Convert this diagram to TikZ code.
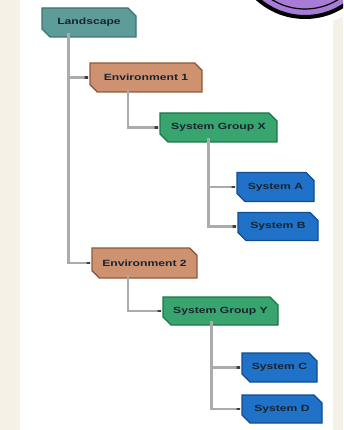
\documentclass[tikz,border=0pt]{standalone}
\usepackage{fontspec}
\newfontfamily\boxfont[FakeStretch=1.35]{Liberation Sans Bold}
\usetikzlibrary{shapes.misc,arrows.meta,calc}
\definecolor{bgbeige}{HTML}{F6F1E7}
\definecolor{tealfill}{HTML}{5E9C9A}
\definecolor{tealdraw}{HTML}{3F7472}
\definecolor{orfill}{HTML}{CF9270}
\definecolor{ordraw}{HTML}{8E5A3E}
\definecolor{grfill}{HTML}{38A46E}
\definecolor{grdraw}{HTML}{1E7548}
\definecolor{blfill}{HTML}{1F72C8}
\definecolor{bldraw}{HTML}{124C8E}
\definecolor{purp}{HTML}{A77BD6}
\definecolor{linegrey}{HTML}{ABABAB}
\definecolor{txtdark}{HTML}{1A2430}
\tikzset{
  boxbase/.style={chamfered rectangle, chamfered rectangle corners={south west,north east},
    chamfered rectangle xsep=4pt, chamfered rectangle ysep=4pt, inner sep=0pt, line width=1.4pt,
    text=txtdark, font=\boxfont\fontsize{9}{9}\selectfont},
  lvlzero/.style={boxbase, fill=tealfill, draw=tealdraw},
  lvlone/.style={boxbase, fill=orfill, draw=ordraw},
  lvltwo/.style={boxbase, fill=grfill, draw=grdraw},
  lvlthree/.style={boxbase, fill=blfill, draw=bldraw},
  conn/.style={draw=linegrey, line width=2.4pt, -{Rectangle[length=6pt,width=2.4pt,color=black!75]}},
}
\newcommand{\bx}[6]{\node[#1, minimum width=#4pt, minimum height=#5pt] (#2) at (#3) {\raisebox{-3pt}{#6}};}
\begin{document}
\begin{tikzpicture}[x=1pt,y=-1pt]
\useasboundingbox (0,0) rectangle (343,430);
\fill[bgbeige] (0,0) rectangle (343,430);
\fill[white] (20,0) rectangle (333,430);
\begin{scope}
\clip (0,0) rectangle (343,430);
\fill[white] (305,-54) circle (80);
\draw[black, line width=4pt, fill=purp] (305,-54) circle (71);
\draw[black, line width=1.2pt] (305,-54) circle (63);
\end{scope}
\bx{lvlzero}{land}{89,22.5}{94}{29}{Landscape}
\bx{lvlone}{envone}{146,77.5}{112}{29}{Environment 1}
\bx{lvltwo}{grpx}{218.5,127.5}{117}{29}{System Group X}
\bx{lvlthree}{sysa}{275.5,187}{77}{29}{System A}
\bx{lvlthree}{sysb}{278,226.5}{80}{28}{System B}
\bx{lvlone}{envtwo}{144.5,263}{105}{30}{Environment 2}
\bx{lvltwo}{grpy}{220.5,311}{115}{28}{System Group Y}
\bx{lvlthree}{sysc}{279.5,367.5}{75}{29}{System C}
\bx{lvlthree}{sysd}{282,409}{80}{28}{System D}
\draw[conn] ($(land.south west)+(23,0)$) |- (envone.west);
\draw[conn] ($(land.south west)+(23,0)$) |- (envtwo.west);
\draw[conn] ($(envone.south west)+(35,0)$) |- (grpx.west);
\draw[conn] ($(grpx.south west)+(45,0)$) |- (sysa.west);
\draw[conn] ($(grpx.south west)+(45,0)$) |- (sysb.west);
\draw[conn] ($(envtwo.south west)+(33,0)$) |- (grpy.west);
\draw[conn] ($(grpy.south west)+(45,0)$) |- (sysc.west);
\draw[conn] ($(grpy.south west)+(45,0)$) |- (sysd.west);
\end{tikzpicture}
\end{document}
